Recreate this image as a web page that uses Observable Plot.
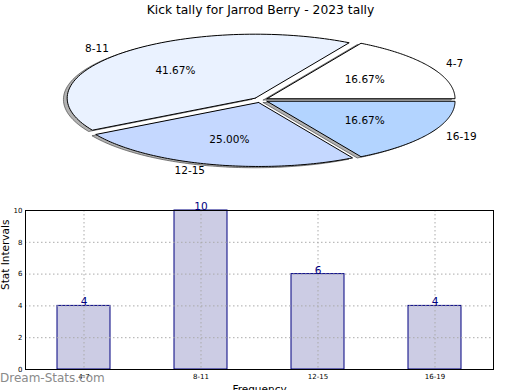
<!DOCTYPE html>
<html><head><meta charset="utf-8">
<script src="https://cdn.jsdelivr.net/npm/d3@7"></script>
<script src="https://cdn.jsdelivr.net/npm/@observablehq/plot@0.6"></script>
<style>
body{margin:0;background:#fff;font-family:"DejaVu Sans",sans-serif}
#wrap{position:relative;width:520px;height:390px;overflow:hidden}
#wrap svg{display:block}
#wm{position:absolute;left:0;top:371px;font:12px "DejaVu Sans",sans-serif;color:#8a8a8a;white-space:nowrap}
</style>
</head><body><div id="wrap"></div><script>
const title = "Kick tally for Jarrod Berry - 2023 tally";
const categories = ["4-7", "8-11", "12-15", "16-19"];
const counts = [4, 10, 6, 4];
const sliceColors = ["#ffffff", "#eaf2ff", "#c5d8ff", "#b3d4ff"];
const explode = [0.04, 0.04, 0.04, 0.04];
const yTicks = [0, 2, 4, 6, 8, 10];
const yLabel = "Stat Intervals";
const xLabel = "Frequency";
const watermark = "Dream-Stats.com";

const wrap = document.getElementById("wrap");
const font = "DejaVu Sans, sans-serif";

// ---- pie geometry (unit circle, mapped by Plot's x/y scales) ----
const total = d3.sum(counts);
let acc = 0;
const wedges = categories.map((c, i) => {
  const a0 = acc / total * 2 * Math.PI;
  acc += counts[i];
  const a1 = acc / total * 2 * Math.PI;
  const mid = (a0 + a1) / 2;
  const cx = explode[i] * Math.cos(mid), cy = explode[i] * Math.sin(mid);
  const n = 90;
  const pts = [{x: cx, y: cy}];
  for (let k = 0; k <= n; k++) {
    const a = a0 + (a1 - a0) * k / n;
    pts.push({x: cx + Math.cos(a), y: cy + Math.sin(a)});
  }
  pts.push({x: cx, y: cy});
  return {cat: c, pts, mid, cx, cy, pct: (counts[i] / total * 100).toFixed(2) + "%"};
});
const labelData = wedges.map(w => ({
  label: w.cat,
  x: w.cx + 1.1 * Math.cos(w.mid), y: w.cy + 1.1 * Math.sin(w.mid),
  anchor: Math.cos(w.mid) >= 0 ? "start" : "end"
}));
const pctData = wedges.map(w => ({
  label: w.pct, x: w.cx + 0.6 * Math.cos(w.mid), y: w.cy + 0.6 * Math.sin(w.mid)
}));

const RX = 188, RY = 64, CX = 260, CY = 99.5, PH = 190;
const pieMarks = [];
wedges.forEach(w => {
  pieMarks.push(Plot.line(w.pts.map(p => ({x: p.x - 0.02, y: p.y - 0.02})), {
    x: "x", y: "y", fill: "#555", fillOpacity: 0.45, stroke: "#333", strokeOpacity: 0.6, strokeWidth: 1
  }));
});
wedges.forEach((w, i) => {
  pieMarks.push(Plot.line(w.pts, {
    x: "x", y: "y", fill: sliceColors[i], stroke: "#000", strokeWidth: 1, strokeLinejoin: "miter"
  }));
});
pieMarks.push(Plot.text(labelData.filter(d => d.anchor === "start"), {x: "x", y: "y", text: "label", textAnchor: "start", fontSize: 10.5, fill: "#000"}));
pieMarks.push(Plot.text(labelData.filter(d => d.anchor === "end"), {x: "x", y: "y", text: "label", textAnchor: "end", fontSize: 10.5, fill: "#000"}));
pieMarks.push(Plot.text(pctData, {x: "x", y: "y", text: "label", fontSize: 10.5, fill: "#000"}));
pieMarks.push(Plot.text([title], {frameAnchor: "top", dy: 10, lineAnchor: "middle", fontSize: 12.3, fill: "#000"}));

const pie = Plot.plot({
  width: 520, height: PH, margin: 0,
  style: {fontFamily: font, background: "transparent"},
  x: {domain: [-CX / RX, (520 - CX) / RX], axis: null},
  y: {domain: [(CY - PH) / RY, CY / RY], axis: null},
  marks: pieMarks
});
wrap.appendChild(pie);

// ---- bar chart ----
const bars = categories.map((c, i) => ({cat: c, v: counts[i]}));
const barPlot = Plot.plot({
  width: 520, height: 200,
  marginTop: 20, marginBottom: 21, marginLeft: 25, marginRight: 27,
  style: {fontFamily: font, background: "transparent"},
  x: {type: "band", domain: categories, padding: 0, tickSize: 0, tickPadding: 5, label: null},
  y: {domain: [0, 10], ticks: yTicks, tickSize: 0, tickPadding: 3, label: null},
  marks: [
    Plot.barY(bars, {x: "cat", y: "v", fill: "#cccce4", stroke: "#000080", strokeWidth: 1, insetLeft: 32, insetRight: 32}),
    Plot.gridY(yTicks, {stroke: "#aaa", strokeOpacity: 1, strokeDasharray: "1.5,2.5"}),
    Plot.gridX(categories, {stroke: "#aaa", strokeOpacity: 1, strokeDasharray: "1.5,2.5"}),
    Plot.text(bars, {x: "cat", y: "v", text: d => String(d.v), lineAnchor: "bottom", dy: -0.5, fontSize: 10.5, fill: "#000080"}),
    Plot.frame({stroke: "#000", strokeWidth: 1}),
    Plot.text([yLabel], {frameAnchor: "left", rotate: -90, dx: -20, fontSize: 10.5, fill: "#000"}),
    Plot.text([xLabel], {frameAnchor: "bottom", dy: 20, lineAnchor: "middle", fontSize: 10.5, fill: "#000"})
  ]
});
barPlot.style.fontSize = "7px";
wrap.appendChild(barPlot);

const wm = document.createElement("div");
wm.id = "wm";
wm.textContent = watermark;
wrap.appendChild(wm);
</script></body></html>
